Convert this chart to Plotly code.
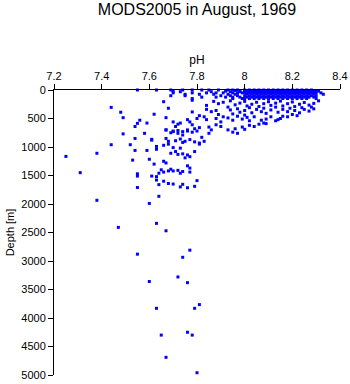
import plotly.graph_objects as go

# ---- data (pH vs depth in metres) ----
# near-surface standard levels (dense blob)
ph_0m = [7.55, 7.63, 7.69, 7.74, 7.78, 7.82, 7.85, 7.89, 7.93, 7.95, 7.97,
         8.00, 8.02, 8.04, 8.06, 8.08, 8.10, 8.12, 8.14, 8.16, 8.18, 8.20, 8.22, 8.24, 8.26, 8.28]
ph_10m = [7.96, 7.98, 8.01, 8.03, 8.05, 8.07, 8.09, 8.11, 8.13, 8.15, 8.17, 8.19, 8.21, 8.23,
          8.25, 8.27, 8.29, 8.30]
ph_20m = [7.70, 7.92, 8.00, 8.02, 8.04, 8.06, 8.08, 8.10, 8.12, 8.14, 8.16, 8.18, 8.20, 8.22,
          8.24, 8.26, 8.28, 8.31]
ph_30m = [7.73, 7.86, 7.94, 7.98, 8.01, 8.03, 8.05, 8.07, 8.09, 8.11, 8.13, 8.15, 8.17, 8.19,
          8.21, 8.23, 8.25, 8.27, 8.29]
ph_50m = [7.70, 7.78, 7.84, 7.88, 7.91, 7.95, 7.97, 7.99, 8.00, 8.02, 8.04, 8.06, 8.08, 8.10,
          8.12, 8.14, 8.16, 8.18, 8.20, 8.22, 8.24, 8.26, 8.28, 8.30, 8.32]
ph_75m = [7.75, 7.81, 7.87, 7.93, 7.96, 8.01, 8.03, 8.05, 8.07, 8.09, 8.11, 8.13, 8.15, 8.17,
          8.19, 8.21, 8.23, 8.25, 8.27, 8.29, 8.33]
ph_100m = [7.69, 7.75, 7.90, 7.94, 7.97, 8.00, 8.02, 8.04, 8.06, 8.08, 8.10, 8.12, 8.14, 8.16,
           8.18, 8.20, 8.22, 8.24, 8.26, 8.28, 8.30]
ph_125m = [7.82, 7.88, 7.92, 7.95, 7.98, 8.01, 8.03, 8.05, 8.07, 8.09, 8.11, 8.13, 8.15, 8.17,
           8.19, 8.21, 8.23, 8.25, 8.27, 8.29]
ph_150m = [7.78, 7.95, 7.99, 8.00, 8.02, 8.04, 8.06, 8.08, 8.10, 8.12, 8.14, 8.16, 8.18, 8.20,
           8.22, 8.24, 8.26, 8.30]

level_depths = [0, 10, 20, 30, 50, 75, 100, 125, 150]

# sloping band between ~175 m and ~950 m
ph_band = [7.66, 7.78, 7.87, 7.89, 7.91, 7.94, 7.96, 7.98, 8.00, 8.01, 8.03, 8.05, 8.06, 8.08,
           8.10, 8.11, 8.13, 8.15, 8.16, 8.18, 8.20, 8.21, 8.23, 8.25, 8.27, 8.29, 8.31, 8.28,
           8.24, 7.84,
           7.44, 7.68, 7.62, 7.48, 7.78, 7.84, 7.86, 7.88, 7.81, 7.83, 7.89, 7.93, 7.94, 7.95,
           7.97, 7.98, 8.00, 8.00, 8.02, 8.03, 8.05, 8.07, 8.08, 8.09, 8.11, 8.13, 8.14, 8.16,
           8.18, 8.19, 8.21, 8.23, 8.25, 8.27, 8.29, 8.20, 8.22,
           7.49, 7.56, 7.55, 7.59, 7.67, 7.70, 7.72, 7.71, 7.73, 7.76, 7.77, 7.78, 7.80, 7.81,
           7.79, 7.84, 7.88, 7.90, 7.91, 7.93, 7.95, 7.97, 7.99, 8.01, 8.02, 8.04, 8.07, 8.08,
           8.09, 8.11, 8.13, 8.15, 8.16, 8.14, 8.18,
           7.54, 7.67, 7.69, 7.70, 7.72, 7.74, 7.76, 7.85, 7.86, 7.88, 7.90, 7.93, 7.95, 7.96,
           7.97, 7.99, 8.00, 8.02, 8.04, 8.06, 8.09, 7.82, 7.83, 7.81, 7.61, 7.85]
depth_band = [205, 180, 200, 240, 215, 190, 260, 230, 200, 280, 250, 215, 290, 240,
              205, 270, 230, 195, 280, 240, 210, 290, 250, 220, 265, 235, 190, 300,
              310, 270,
              305, 320, 425, 390, 385, 340, 380, 360, 450, 470, 430, 300, 350, 420,
              330, 390, 360, 440, 310, 400, 340, 380, 320, 410, 350, 300, 390, 340,
              380, 320, 360, 400, 340, 370, 330, 430, 450,
              485, 530, 585, 580, 485, 560, 600, 640, 580, 520, 560, 610, 500, 660,
              680, 520, 500, 560, 470, 490, 530, 460, 510, 480, 540, 470, 530, 580,
              510, 470, 540, 500, 460, 520, 470,
              640, 700, 750, 730, 760, 790, 720, 650, 700, 610, 640, 700, 740, 680,
              760, 650, 690, 620, 640, 600, 590, 830, 900, 950, 865, 760]

# scattered mid-depth observations
ph_mid = [7.49, 7.58, 7.54, 7.61, 7.67, 7.70, 7.72, 7.74, 7.76, 7.78, 7.80,
          7.67, 7.68, 7.71, 7.73, 7.75, 7.77, 7.79, 7.81, 7.74,
          7.44, 7.52, 7.54, 7.59, 7.63, 7.63, 7.66, 7.68, 7.70, 7.71, 7.73, 7.72, 7.74, 7.76,
          7.77, 7.75, 7.69, 7.79,
          7.25, 7.38, 7.53, 7.60, 7.66, 7.67,
          7.62, 7.65, 7.66, 7.68, 7.69, 7.70, 7.72, 7.74, 7.76, 7.77, 7.77, 7.73, 7.64,
          7.31, 7.55, 7.55, 7.61, 7.63,
          7.63, 7.66, 7.64, 7.68, 7.70, 7.74, 7.76, 7.79, 7.80, 7.73, 7.55]
depth_mid = [770, 760, 850, 880, 700, 720, 710, 730, 700, 740, 720,
             850, 900, 890, 860, 900, 870, 910, 930, 920,
             960, 960, 1060, 1060, 990, 1040, 970, 950, 1010, 1080, 1020, 1130, 1120, 1140,
             1170, 1190, 1110, 1080,
             1165, 1110, 1230, 1215, 1250, 1280,
             1300, 1400, 1440, 1420, 1390, 1420, 1410, 1430, 1330, 1370, 1440, 1460, 1460,
             1450, 1470, 1510, 1510, 1520,
             1580, 1600, 1660, 1640, 1650, 1655, 1715, 1690, 1590, 1700, 1710]

# deep observations
ph_deep = [7.38, 7.60, 7.64, 7.63, 7.47, 7.67, 7.77, 7.74, 7.55, 7.72, 7.60, 7.76,
           7.81, 7.63, 7.79, 7.76, 7.65, 7.78, 7.67, 7.80]
depth_deep = [1935, 1990, 1865, 2340, 2410, 2470, 2810, 2935, 2880, 3280, 3360, 3380,
              3765, 3830, 3830, 4250, 4300, 4300, 4690, 4960]

x_ticks = [7.2, 7.4, 7.6, 7.8, 8.0, 8.2, 8.4]
x_tick_labels = ["7.2", "7.4", "7.6", "7.8", "8", "8.2", "8.4"]
y_ticks = [0, 500, 1000, 1500, 2000, 2500, 3000, 3500, 4000, 4500, 5000]
y_tick_labels = ["0", "500", "1000", "1500", "2000", "2500", "3000", "3500", "4000", "4500", "5000"]

level_lists = [ph_0m, ph_10m, ph_20m, ph_30m, ph_50m, ph_75m, ph_100m, ph_125m, ph_150m]

xs, ys = [], []
for d, phs in zip(level_depths, level_lists):
    xs.extend(phs)
    ys.extend([d] * len(phs))
xs.extend(ph_band); ys.extend(depth_band)
xs.extend(ph_mid); ys.extend(depth_mid)
xs.extend(ph_deep); ys.extend(depth_deep)

font_family = "Liberation Sans, Arial, sans-serif"

fig = go.Figure(go.Scatter(
    x=xs, y=ys, mode="markers",
    marker=dict(symbol="square", size=3, color="#0000ff", line=dict(width=0)),
    cliponaxis=False, showlegend=False,
))

fig.update_layout(
    width=350, height=384,
    margin=dict(l=54, r=10, t=90, b=9, autoexpand=False),
    paper_bgcolor="white", plot_bgcolor="white",
    font=dict(family=font_family, color="black", size=11),
    title=dict(text="MODS2005 in August, 1969", x=0.5, xref="paper", xanchor="center",
               y=1 - 9 / 384, yref="container", yanchor="middle",
               font=dict(size=16, family=font_family, color="black")),
    xaxis=dict(
        side="top", range=[7.2, 8.4], tickvals=x_ticks, ticktext=x_tick_labels,
        showline=True, linecolor="black", linewidth=1, mirror=False, automargin=False,
        ticks="outside", ticklen=5, tickcolor="black", showgrid=False, zeroline=False,
        title=dict(text="pH", font=dict(size=12), standoff=2),
        tickfont=dict(size=11),
    ),
    yaxis=dict(
        range=[5000, 0], tickvals=y_ticks, ticktext=y_tick_labels, automargin=False,
        showline=True, linecolor="black", linewidth=1,
        ticks="outside", ticklen=5, tickcolor="black", showgrid=False, zeroline=False,
        title=dict(text="Depth [m]", font=dict(size=11), standoff=4),
        tickfont=dict(size=11),
    ),
)

fig.write_html("out.html")
